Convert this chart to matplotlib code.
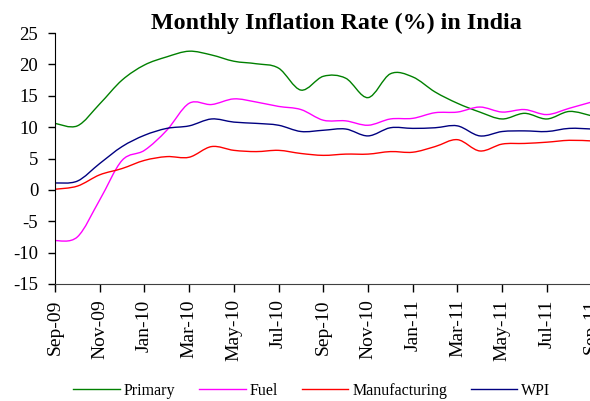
import matplotlib
matplotlib.use("Agg")
import matplotlib.pyplot as plt
from matplotlib.path import Path
from matplotlib.patches import PathPatch
from matplotlib.lines import Line2D

plt.rcParams["axes.unicode_minus"] = False

# === Dati ===
MONTHS = ["Sep-09", "Oct-09", "Nov-09", "Dec-09", "Jan-10", "Feb-10", "Mar-10",
          "Apr-10", "May-10", "Jun-10", "Jul-10", "Aug-10", "Sep-10", "Oct-10",
          "Nov-10", "Dec-10", "Jan-11", "Feb-11", "Mar-11", "Apr-11", "May-11",
          "Jun-11", "Jul-11", "Aug-11", "Sep-11"]

primary = [10.6, 10.2, 13.7, 17.5, 19.9, 21.2, 22.1, 21.5, 20.5, 20.1, 19.4, 15.9,
           18.1, 17.8, 14.7, 18.5, 18.0, 15.6, 13.8, 12.4, 11.3, 12.2, 11.3, 12.5, 11.8]
fuel = [-8.1, -7.5, -1.6, 4.7, 6.3, 9.5, 13.8, 13.6, 14.5, 14.0, 13.3, 12.8,
        11.1, 11.0, 10.3, 11.3, 11.4, 12.3, 12.4, 13.2, 12.4, 12.8, 12.0, 13.0, 14.0]
manufacturing = [0.1, 0.6, 2.4, 3.4, 4.7, 5.3, 5.2, 6.9, 6.3, 6.1, 6.3, 5.8,
                 5.5, 5.7, 5.7, 6.1, 6.0, 6.9, 8.0, 6.2, 7.3, 7.4, 7.6, 7.9, 7.8]
wpi = [1.1, 1.4, 4.2, 6.9, 8.7, 9.8, 10.2, 11.3, 10.8, 10.6, 10.3, 9.3,
       9.5, 9.7, 8.6, 9.9, 9.8, 9.9, 10.2, 8.6, 9.3, 9.4, 9.3, 9.8, 9.7]

SERIES = [("Primary", primary, "#008000"),
          ("Fuel", fuel, "#FF00FF"),
          ("Manufacturing", manufacturing, "#FF0000"),
          ("WPI", wpi, "#000080")]

SERIF = "Liberation Serif"


def smooth_path(x, y):
    """Curva di Bezier tipo Excel (linea smussata) sui punti dati."""
    pts = list(zip(x, y))
    n = len(pts)
    verts = [pts[0]]
    codes = [Path.MOVETO]
    for i in range(n - 1):
        p0 = pts[i - 1] if i > 0 else pts[i]
        p1 = pts[i]
        p2 = pts[i + 1]
        p3 = pts[i + 2] if i + 2 < n else pts[i + 1]
        c1 = (p1[0] + (p2[0] - p0[0]) / 6, p1[1] + (p2[1] - p0[1]) / 6)
        c2 = (p2[0] - (p3[0] - p1[0]) / 6, p2[1] - (p3[1] - p1[1]) / 6)
        verts += [c1, c2, p2]
        codes += [Path.CURVE4] * 3
    return Path(verts, codes)


fig = plt.figure(figsize=(5.90, 4.01), dpi=100)
ax = fig.add_axes([55 / 590, 1 - 284 / 401, (591.6 - 55) / 590, (284 - 33) / 401])

x = list(range(len(MONTHS)))
handles = []
for name, vals, col in SERIES:
    ax.add_patch(PathPatch(smooth_path(x, vals), fill=False, edgecolor=col, lw=1.0))
    handles.append(Line2D([], [], color=col, lw=1.0, label=name))

ax.set_xlim(0, len(MONTHS) - 1)
ax.set_ylim(-15, 25)
ax.set_yticks(range(-15, 26, 5))
ax.set_xticks(x[::2])
ax.set_xticklabels(MONTHS[::2], rotation=90, fontfamily=SERIF, fontsize=14)
for lbl in ax.get_yticklabels():
    lbl.set_fontfamily(SERIF)
    lbl.set_fontsize(13.5)

ax.spines["top"].set_visible(False)
ax.spines["right"].set_visible(False)
ax.spines["bottom"].set_color("#404040")
ax.tick_params(axis="x", direction="out", length=6, width=1, pad=5, colors="black")
ax.tick_params(axis="y", direction="out", length=5, width=1, pad=7)

fig.text(336 / 590, 1 - 29.3 / 401, "Monthly Inflation Rate (%) in India",
         ha="center", va="baseline", fontfamily=SERIF, fontweight="bold", fontsize=17.3)

fig.legend(handles=handles, loc="center", bbox_to_anchor=(312 / 590, 1 - 391 / 401),
           ncol=4, frameon=False, prop={"family": SERIF, "size": 11.5},
           handlelength=2.9, handletextpad=0.25, columnspacing=1.5)

fig.savefig("out.png", dpi=100)
